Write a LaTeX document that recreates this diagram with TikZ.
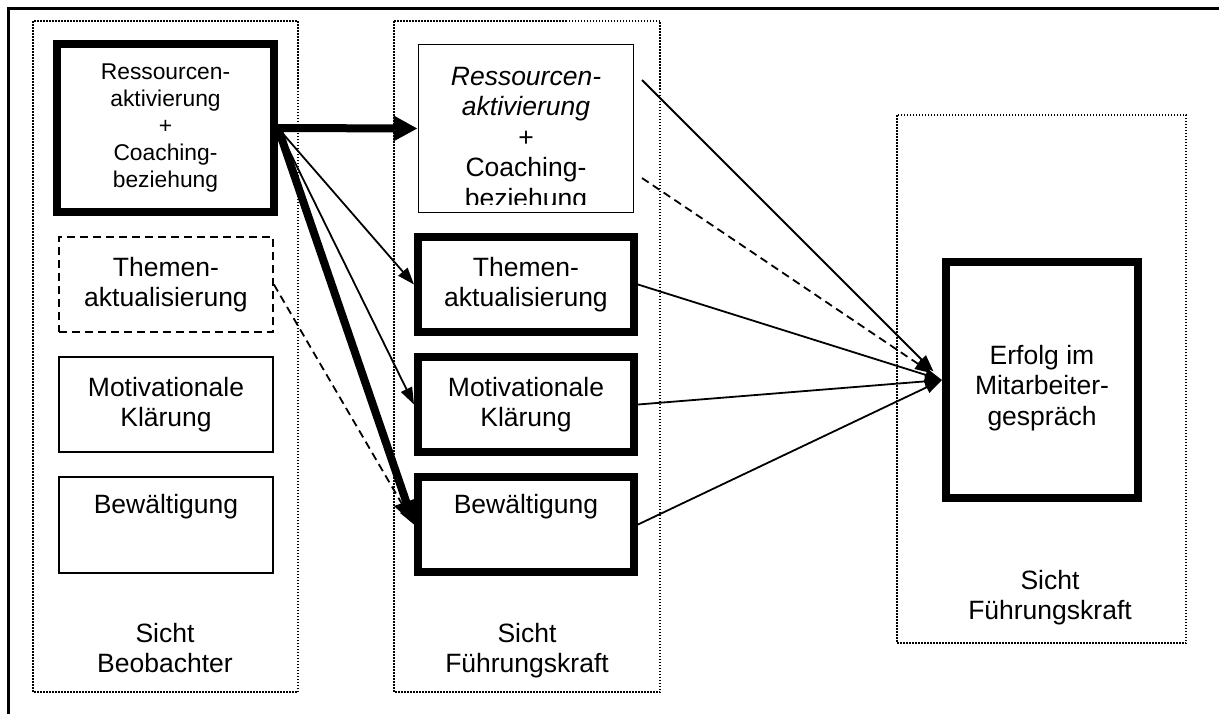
\documentclass[tikz,border=0pt]{standalone}
\usepackage{fontspec}
\setmainfont{Liberation Sans}
\usetikzlibrary{arrows.meta}
\begin{document}
\begin{tikzpicture}[x=1pt, y=-1pt,
	every node/.style={font=\fontsize{26.5}{30.5}\selectfont, align=center, inner sep=0pt},
	view/.style={line width=1.5pt, dash pattern=on 1.5pt off 1.5pt},
	thickbox/.style={draw, line width=8pt, fill=white, minimum width=216pt, minimum height=95pt},
	thinbox/.style={draw, line width=1.8pt, fill=white, minimum width=214pt, minimum height=95pt},
	dashbox/.style={thinbox, dash pattern=on 8pt off 5pt},
	arr/.style={line width=1.8pt, -{Triangle[length=17pt,width=12pt]}},
	thickarr/.style={line width=8pt, -{Triangle[length=24pt,width=24pt]}},
	dasharr/.style={arr, dash pattern=on 8pt off 5pt}]
			\useasboundingbox (0,0) rectangle (1219,713);
			% frame and the three views
			\draw[line width=3pt] (8,720) -- (8,8) -- (1225,8);
			\draw[view] (33,21) rectangle (298,692);
			\draw[view] (394,21) rectangle (660,692);
			\draw[view] (897,115) rectangle (1186,643);
			\node[anchor=north] (lsicht) at (165,623) {Sicht\\Beobachter};
			\node[anchor=north] (msicht) at (527,623) {Sicht\\Führungskraft};
			\node[anchor=north] (rsicht) at (1050,570) {Sicht\\Führungskraft};
			% left column
			\node[thickbox, minimum width=217pt, minimum height=168pt, font=\fontsize{22.8}{27}\selectfont] (l1) at (165.5,128) {Ressourcen-\\aktivierung\\+\\Coaching-\\beziehung};
			\node[dashbox] (l2) at (166,284.5) {Themen-\\aktualisierung};
			\node[thinbox] (l3) at (166,404.5) {Motivationale\\Klärung};
			\node[thinbox, minimum height=96pt] (l4) at (166,525) {Bewältigung\\[2pt]\strut};
			% middle column
			\node[thinbox, minimum width=215pt, minimum height=168pt] (m1) at (526,128.5) {};
			\begin{scope}
				\clip (418,46) rectangle (634,204);
				\node (m1text) at (526,140) {\textit{Ressourcen-}\\\textit{aktivierung}\\+\\Coaching-\\beziehung};
			\end{scope}
			\node[thickbox] (m2) at (526,284.5) {Themen-\\aktualisierung};
			\node[thickbox] (m3) at (526,404.5) {Motivationale\\Klärung};
			\node[thickbox] (m4) at (526,524.5) {Bewältigung\\[2pt]\strut};
			% right column
			\node[thickbox, minimum width=192pt, minimum height=236pt] (r) at (1042,380) {};
			\node (rtext) at (1042,388) {Erfolg im\\Mitarbeiter-\\gespräch};
			% arrows
			\draw[thickarr] (l1.east) -- (m1.west);
			\draw[thickarr] (l1.east) -- (m4.west);
			\draw[arr] (l1.east) -- (m2.west);
			\draw[arr] (l1.east) -- (m3.west);
			\draw[dasharr] (l2.east) -- (m4.west);
			\coordinate (u1) at (642,80);
			\coordinate (u2) at (642,178);
			\draw[arr, shorten >=12pt] (u1) -- (r.west);
			\draw[dasharr, shorten >=12pt] (u2) -- (r.west);
			\draw[arr] (m2.east) -- (r.west);
			\draw[arr] (m3.east) -- (r.west);
			\draw[arr] (m4.east) -- (r.west);
		\end{tikzpicture}
\end{document}
